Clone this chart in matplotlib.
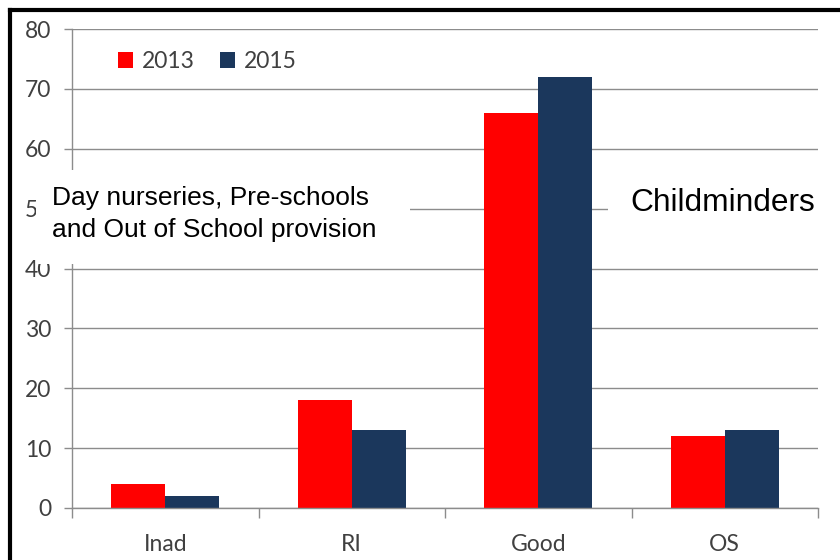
import numpy as np
import matplotlib
matplotlib.use('Agg')
import matplotlib.pyplot as plt
from matplotlib.patches import Rectangle
from matplotlib.lines import Line2D

# data
categories = ['Inad', 'RI', 'Good', 'OS']
years = ['2013', '2015']
values_2013 = [4, 18, 66, 12]
values_2015 = [2, 13, 72, 13]

red = '#ff0000'
navy = '#1b375c'
grey = '#8c8c8c'
txt = '#404040'

W, H = 840, 560
fig = plt.figure(figsize=(W / 100, H / 100), dpi=100)
ax = fig.add_axes([72 / W, 1 - 508 / H, (818 - 72) / W, (508 - 29) / H])

x = np.arange(len(categories))
w = 0.29
ax.bar(x - w / 2, values_2013, w, color=red, label=years[0], zorder=2)
ax.bar(x + w / 2, values_2015, w, color=navy, label=years[1], zorder=2)

ax.set_xlim(-0.5, len(categories) - 0.5)
ax.set_ylim(0, 80)
ax.set_yticks(range(0, 81, 10))
ax.yaxis.grid(True, color=grey, lw=1)
ax.set_axisbelow(True)

for s in ['top', 'right']:
    ax.spines[s].set_visible(False)
for s in ['left', 'bottom']:
    ax.spines[s].set_color(grey)
    ax.spines[s].set_linewidth(1)

ax.set_xticks(x)
ax.set_xticklabels(categories)
ax.set_xticks(np.arange(-0.5, len(categories), 1), minor=True)
ax.tick_params(axis='x', which='major', length=0, pad=19)
ax.tick_params(axis='x', which='minor', length=7, color=grey, width=1)
ax.tick_params(axis='y', length=6, color=grey, width=1, pad=9)
for lab in ax.get_xticklabels() + ax.get_yticklabels():
    lab.set_fontfamily('Lato')
    lab.set_fontsize(16.5)
    lab.set_color(txt)

leg = ax.legend(loc='upper left', bbox_to_anchor=((118 - 72) / 746, (508 - 51) / 479),
                ncol=2, frameon=False, borderpad=0, borderaxespad=0,
                handlelength=0.65, handleheight=0.65, handletextpad=0.4,
                columnspacing=1.1, prop={'family': 'Lato', 'size': 16.5})
for t in leg.get_texts():
    t.set_color(txt)

# white boxes behind the annotations
fig.add_artist(Rectangle((36 / W, 1 - 264 / H), 374 / W, 94 / H,
                         transform=fig.transFigure, facecolor='white',
                         edgecolor='none', zorder=2.9))
fig.add_artist(Rectangle((608 / W, 1 - 258 / H), 232 / W, 96 / H,
                         transform=fig.transFigure, facecolor='white',
                         edgecolor='none', zorder=2.9))

fig.text(52 / W, 1 - 205 / H, 'Day nurseries, Pre-schools', fontsize=19,
         family='Liberation Sans', va='baseline', zorder=3)
fig.text(52 / W, 1 - 237 / H, 'and Out of School provision', fontsize=19,
         family='Liberation Sans', va='baseline', zorder=3)
fig.text(630 / W, 1 - 211 / H, 'Childminders', fontsize=22.8,
         family='Liberation Sans', va='baseline', zorder=3)

# thick black frame: only its top and left edges are in the picture
fx, fy = 10 / W, 1 - 10 / H
fig.add_artist(Line2D([fx, 1.0], [fy, fy], transform=fig.transFigure,
                      color='black', lw=3, solid_capstyle='projecting', zorder=5))
fig.add_artist(Line2D([fx, fx], [0.0, fy], transform=fig.transFigure,
                      color='black', lw=3, solid_capstyle='projecting', zorder=5))

fig.savefig('out.png', dpi=100)
